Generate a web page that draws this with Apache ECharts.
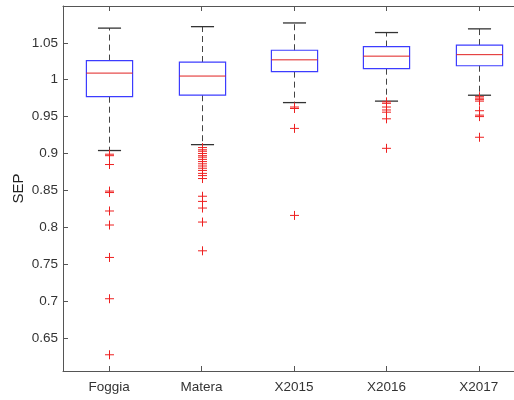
<!DOCTYPE html>
<html>
<head>
<meta charset="utf-8">
<script src="https://cdn.jsdelivr.net/npm/echarts@6/dist/echarts.min.js"></script>
<style>
  html, body { margin: 0; padding: 0; background: #fff; overflow: hidden; }
  /* the plot frame runs a little past the right edge of the page */
  #chart { width: 526px; height: 400px; }
</style>
</head>
<body>
<div id="chart"></div>
<script>
// Box-plot summary of SEP per group
const categories = ['Foggia', 'Matera', 'X2015', 'X2016', 'X2017'];
const upperWhisker = [1.070, 1.072, 1.077, 1.064, 1.069];
const upperQuartile = [1.026, 1.024, 1.040, 1.045, 1.047];
const medians = [1.009, 1.005, 1.027, 1.032, 1.034];
const lowerQuartile = [0.977, 0.979, 1.011, 1.015, 1.019];
const lowerWhisker = [0.904, 0.912, 0.969, 0.971, 0.979];

// Outlying observations per group
const outliersFoggia = [0.899, 0.897, 0.885, 0.849, 0.847, 0.822, 0.803, 0.759, 0.703, 0.627];
const outliersMatera = [0.908, 0.905, 0.903, 0.900, 0.897, 0.895, 0.892, 0.889, 0.886, 0.883,
                        0.880, 0.877, 0.873, 0.870, 0.866, 0.842, 0.835, 0.826, 0.807, 0.768];
const outlier2015 = [0.963, 0.961, 0.934, 0.816];
const outlier2016 = [0.970, 0.968, 0.963, 0.959, 0.956, 0.947, 0.907];
const outlier2017 = [0.977, 0.975, 0.973, 0.971, 0.958, 0.952, 0.950, 0.922];

const yTicks = [0.65, 0.7, 0.75, 0.8, 0.85, 0.9, 0.95, 1, 1.05];

const outlierGroups = [outliersFoggia, outliersMatera, outlier2015, outlier2016, outlier2017];

const boxData = categories.map((c, i) => [i, lowerWhisker[i], lowerQuartile[i], medians[i], upperQuartile[i], upperWhisker[i]]);
const outlierData = [];
outlierGroups.forEach((g, i) => g.forEach(v => outlierData.push([i, v])));

const axisColor = '#555';
const textColor = '#333';
const fontFamily = '"Liberation Sans", Arial, Helvetica, sans-serif';

function renderBox(params, api) {
  const idx = api.value(0);
  const pLow = api.coord([idx, api.value(1)]);
  const pQ1 = api.coord([idx, api.value(2)]);
  const pMed = api.coord([idx, api.value(3)]);
  const pQ3 = api.coord([idx, api.value(4)]);
  const pHigh = api.coord([idx, api.value(5)]);
  const band = api.size([1, 0])[0];
  const halfBox = band * 0.25;
  const halfCap = band * 0.125;
  const x = Math.round(pMed[0]) + 0.5;
  const dashStyle = { stroke: '#444', lineWidth: 1, lineDash: [6, 4], fill: null };
  const capStyle = { stroke: '#333', lineWidth: 1.3, fill: null };
  return {
    type: 'group',
    children: [
      { type: 'line', shape: { x1: x, y1: pQ3[1], x2: x, y2: pHigh[1] }, style: dashStyle },
      { type: 'line', shape: { x1: x, y1: pQ1[1], x2: x, y2: pLow[1] }, style: dashStyle },
      { type: 'line', shape: { x1: x - halfCap, y1: pHigh[1], x2: x + halfCap, y2: pHigh[1] }, style: capStyle },
      { type: 'line', shape: { x1: x - halfCap, y1: pLow[1], x2: x + halfCap, y2: pLow[1] }, style: capStyle },
      { type: 'rect', shape: { x: x - halfBox, y: pQ3[1], width: halfBox * 2, height: pQ1[1] - pQ3[1] },
        style: { stroke: '#3c3cff', lineWidth: 1.2, fill: null } },
      { type: 'line', shape: { x1: x - halfBox, y1: pMed[1], x2: x + halfBox, y2: pMed[1] },
        style: { stroke: '#e02020', lineWidth: 1, fill: null } }
    ]
  };
}

function renderOutlier(params, api) {
  const p = api.coord([api.value(0), api.value(1)]);
  const x = Math.round(p[0]) + 0.5;
  const y = p[1];
  const h = 4.5;
  const style = { stroke: '#ee2020', lineWidth: 1, fill: null };
  return {
    type: 'group',
    children: [
      { type: 'line', shape: { x1: x - h, y1: y, x2: x + h, y2: y }, style },
      { type: 'line', shape: { x1: x, y1: y - h, x2: x, y2: y + h }, style }
    ]
  };
}

const chart = echarts.init(document.getElementById('chart'), null, { renderer: 'canvas' });
chart.setOption({
  animation: false,
  backgroundColor: '#fff',
  grid: { left: 63, top: 6, width: 462, bottom: 29, outerBoundsMode: 'none', containLabel: false },
  xAxis: [
    {
      type: 'category',
      data: categories,
      position: 'bottom',
      axisLine: { show: true, lineStyle: { color: axisColor, width: 1 } },
      axisTick: { show: true, inside: true, length: 5, alignWithLabel: true, lineStyle: { color: axisColor } },
      axisLabel: { color: textColor, fontSize: 13.5, fontFamily, margin: 9 },
      splitLine: { show: false }
    },
    {
      type: 'category',
      data: categories,
      position: 'top',
      axisLine: { show: true, lineStyle: { color: axisColor, width: 1 } },
      axisTick: { show: true, inside: true, length: 5, alignWithLabel: true, lineStyle: { color: axisColor } },
      axisLabel: { show: false },
      splitLine: { show: false }
    }
  ],
  yAxis: {
    type: 'value',
    min: 0.605,
    max: 1.1,
    name: 'SEP',
    nameLocation: 'middle',
    nameGap: 37,
    nameMoveOverlap: false,
    nameTextStyle: { color: '#222', fontSize: 15, fontFamily },
    axisLine: { show: true, lineStyle: { color: axisColor, width: 1 } },
    axisTick: { show: true, inside: true, length: 5, customValues: yTicks, lineStyle: { color: axisColor } },
    axisLabel: { color: textColor, fontSize: 13.5, fontFamily, margin: 5, customValues: yTicks },
    splitLine: { show: false }
  },
  series: [
    { type: 'custom', renderItem: renderBox, data: boxData, encode: { x: 0, y: [1, 2, 3, 4, 5] }, z: 2 },
    { type: 'custom', renderItem: renderOutlier, data: outlierData, encode: { x: 0, y: 1 }, z: 3 }
  ]
});
</script>
</body>
</html>
